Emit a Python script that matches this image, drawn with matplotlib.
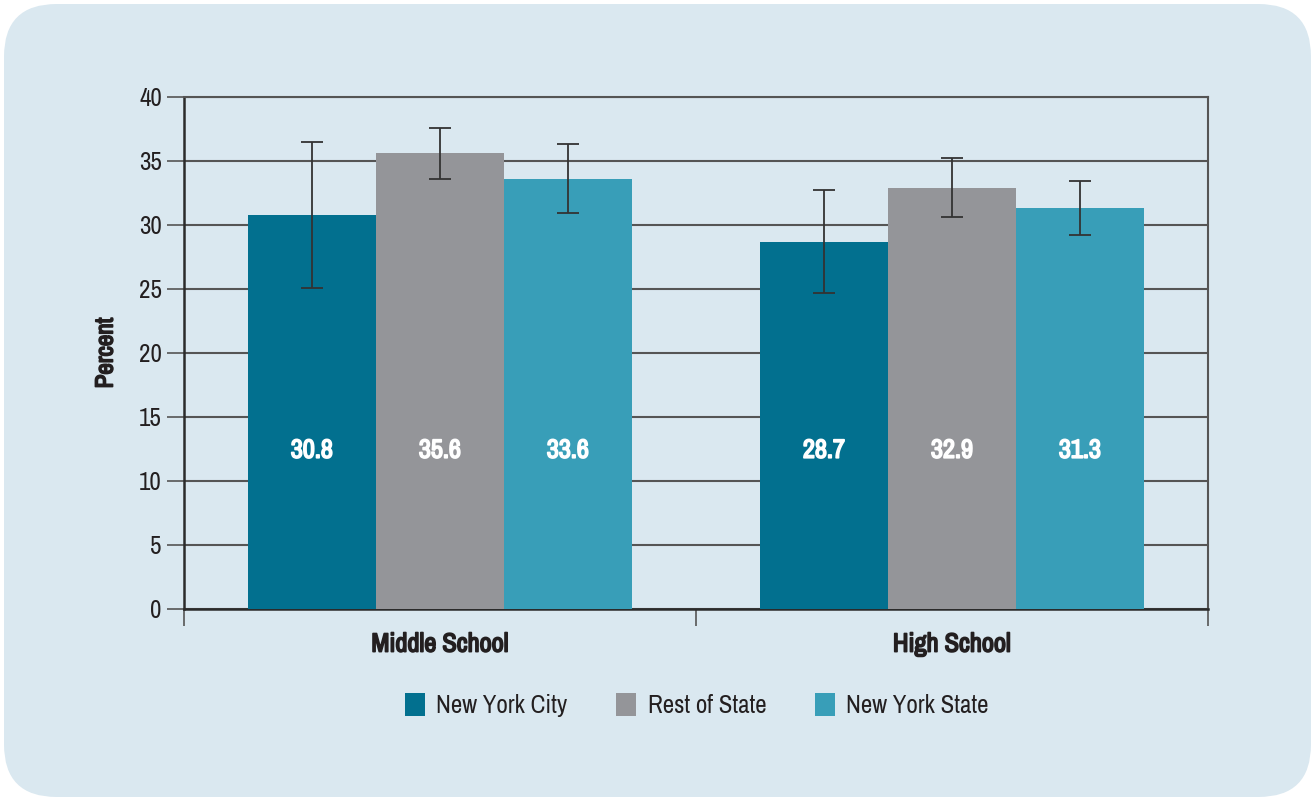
import matplotlib
matplotlib.use("Agg")
import matplotlib.pyplot as plt
from matplotlib.patches import FancyBboxPatch, Patch
import matplotlib.patheffects as pe
import numpy as np

categories = ["Middle School", "High School"]
series = ["New York City", "Rest of State", "New York State"]
values = {
    "New York City": [30.8, 28.7],
    "Rest of State": [35.6, 32.9],
    "New York State": [33.6, 31.3],
}
ci_low = {
    "New York City": [25.1, 24.7],
    "Rest of State": [33.6, 30.6],
    "New York State": [30.9, 29.2],
}
ci_high = {
    "New York City": [36.5, 32.7],
    "Rest of State": [37.6, 35.2],
    "New York State": [36.3, 33.4],
}
colors = {"New York City": "#02708f", "Rest of State": "#949599", "New York State": "#389eb8"}
yticks = [0, 5, 10, 15, 20, 25, 30, 35, 40]

plt.rcParams['font.family'] = ['Archivo Narrow', 'Liberation Sans Narrow', 'DejaVu Sans']
BG = "#dae8f0"
TXT = "#231f20"
FS = 18

def bold_fx(color, lw=1.2):
    return [pe.withStroke(linewidth=lw, foreground=color)]

fig = plt.figure(figsize=(13.15, 8.01), dpi=100, facecolor="white")
panel = FancyBboxPatch((4/1315, 4/801), 1307/1315, 793/801,
                       boxstyle="round,pad=0,rounding_size=0.04",
                       transform=fig.transFigure, facecolor=BG, edgecolor="none",
                       mutation_aspect=1315/801, zorder=-10)
fig.patches.append(panel)

ax = fig.add_axes([184/1315, 1 - 609/801, 1024/1315, 512/801])
ax.set_zorder(1)
ax.patch.set_alpha(0)

x = np.arange(len(categories))
w = 0.25
for i, s in enumerate(series):
    xs = x + (i - 1) * w
    v = np.array(values[s])
    lo = v - np.array(ci_low[s])
    hi = np.array(ci_high[s]) - v
    ax.bar(xs, v, width=w, color=colors[s], zorder=3, label=s)
    ax.errorbar(xs, v, yerr=[lo, hi], fmt="none", ecolor="#333333", elinewidth=1.3,
                capsize=8, capthick=1.3, zorder=4)
    for xi, vi in zip(xs, v):
        ax.text(xi, 12.4, f"{vi:.1f}", ha="center", va="center", color="white",
                fontsize=19, fontweight="bold", zorder=5, path_effects=bold_fx("white"))

ax.set_xlim(-0.5, 1.5)
ax.set_ylim(0, 40)
ax.set_yticks(yticks)
ax.set_yticklabels([str(t) for t in yticks], fontsize=FS, color=TXT)
ax.yaxis.grid(True, color="#555555", linewidth=1.5, zorder=1)
ax.set_axisbelow(True)
ax.tick_params(axis="y", length=12, width=1.2, color="#555555", pad=4)

ax.set_xticks([-0.5, 0.5, 1.5])
ax.set_xticklabels([])
ax.set_xticks(x, minor=True)
ax.set_xticklabels(categories, minor=True, fontsize=19, fontweight="bold", color=TXT)
for t in ax.get_xticklabels(minor=True):
    t.set_path_effects(bold_fx(TXT))
ax.tick_params(axis="x", which="major", length=12, width=1.2, color="#555555")
ax.tick_params(axis="x", which="minor", length=0, pad=17)

for sp in ["left", "bottom"]:
    ax.spines[sp].set_color("#2b2b2b")
    ax.spines[sp].set_linewidth(1.8)
for sp in ["top", "right"]:
    ax.spines[sp].set_color("#555555")
    ax.spines[sp].set_linewidth(1.5)

yl = ax.set_ylabel("Percent", fontsize=FS, fontweight="bold", color=TXT, labelpad=16)
yl.set_path_effects(bold_fx(TXT))

handles = [Patch(facecolor=colors[s], edgecolor="none") for s in series]
fig.legend(handles, series, loc="center", bbox_to_anchor=(697/1315, 1 - 705/801),
           ncol=3, frameon=False, fontsize=FS, handlelength=0.8, handleheight=1.0,
           handletextpad=0.45, columnspacing=1.95, labelcolor=TXT)

fig.savefig("out.png", dpi=100, facecolor="white")
